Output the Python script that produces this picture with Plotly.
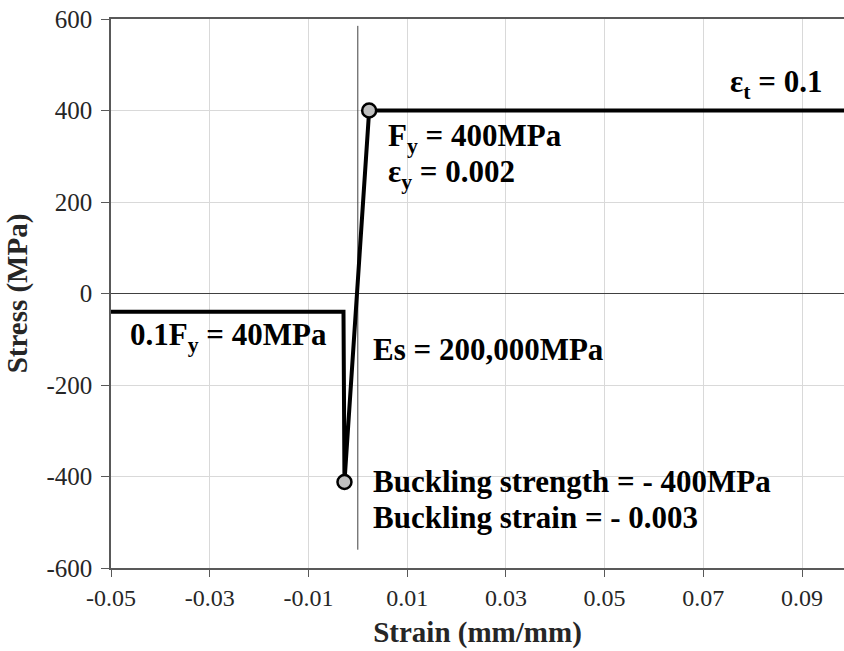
import plotly.graph_objects as go

# Data
strain = [-0.05, -0.0029, -0.0027, 0.0023, 0.1]
stress = [-40, -40, -412, 400, 400]
key_strain = [-0.0027, 0.0023]
key_stress = [-412, 400]
ref_line_x = [0, 0]
ref_line_y = [-560, 585]

x_ticks = [-0.05, -0.03, -0.01, 0.01, 0.03, 0.05, 0.07, 0.09]
x_tick_labels = ["-0.05", "-0.03", "-0.01", "0.01", "0.03", "0.05", "0.07", "0.09"]
y_ticks = [-600, -400, -200, 0, 200, 400, 600]
y_tick_labels = ["-600", "-400", "-200", "0", "200", "400", "600"]

FONT = "Times New Roman, Liberation Serif, serif"

fig = go.Figure()
fig.add_trace(go.Scatter(x=ref_line_x, y=ref_line_y, mode="lines",
                         line=dict(color="#404040", width=1), hoverinfo="skip"))
fig.add_trace(go.Scatter(x=strain, y=stress, mode="lines",
                         line=dict(color="black", width=4)))
fig.add_trace(go.Scatter(x=key_strain, y=key_stress, mode="markers",
                         marker=dict(size=14, color="#bfbfbf",
                                     line=dict(color="black", width=2.5))))

ann_font = dict(family=FONT, size=31, color="black")
annotations = [
    dict(x=0.0945, y=457, text="<b>ε<sub>t</sub> = 0.1</b>", xanchor="right"),
    dict(x=0.0058, y=339, text="<b>F<sub>y</sub> = 400MPa</b>", xanchor="left"),
    dict(x=0.0058, y=261, text="<b>ε<sub>y</sub> = 0.002</b>", xanchor="left"),
    dict(x=-0.0465, y=-96, text="<b>0.1F<sub>y</sub> = 40MPa</b>", xanchor="left"),
    dict(x=0.0026, y=-122, text="<b>Es = 200,000MPa</b>", xanchor="left"),
    dict(x=0.0026, y=-412, text="<b>Buckling strength = - 400MPa</b>", xanchor="left"),
    dict(x=0.0026, y=-490, text="<b>Buckling strain = - 0.003</b>", xanchor="left"),
]
for a in annotations:
    a.update(xref="x", yref="y", yanchor="middle", showarrow=False, font=ann_font)

fig.update_layout(
    width=844, height=651,
    margin=dict(l=111, r=0, t=19, b=83),
    plot_bgcolor="white", paper_bgcolor="white",
    showlegend=False,
    font=dict(family=FONT, color="#262626"),
    annotations=annotations,
    xaxis=dict(
        range=[-0.05, 0.0985], tickvals=x_ticks, ticktext=x_tick_labels,
        automargin=False,
        showgrid=True, gridcolor="#d9d9d9", gridwidth=1,
        showline=True, linecolor="#595959", linewidth=1.5, mirror=True,
        ticks="outside", ticklen=7, tickcolor="#595959",
        tickfont=dict(family=FONT, size=24, color="#262626"),
        zeroline=False,
        title=dict(text="<b>Strain (mm/mm)</b>", font=dict(family=FONT, size=29, color="#262626"),
                   standoff=12),
    ),
    yaxis=dict(
        range=[-600, 600], tickvals=y_ticks, ticktext=y_tick_labels,
        automargin=False,
        showgrid=True, gridcolor="#d9d9d9", gridwidth=1,
        showline=True, linecolor="#595959", linewidth=1.5,
        ticks="outside", ticklen=8, tickcolor="#595959",
        ticklabelstandoff=4,
        tickfont=dict(family=FONT, size=25, color="#262626"),
        zeroline=True, zerolinecolor="#404040", zerolinewidth=1,
        title=dict(text="<b>Stress (MPa)</b>", font=dict(family=FONT, size=29, color="#262626"),
                   standoff=10),
    ),
)

fig.write_html("out.html", config={"displayModeBar": False})

# remove the default page margin so the figure sits at the window origin
with open("out.html", "r", encoding="utf-8") as f:
    html = f.read()
html = html.replace("<head>", "<head><style>html,body{margin:0;padding:0;overflow:hidden;}</style>", 1)
with open("out.html", "w", encoding="utf-8") as f:
    f.write(html)
